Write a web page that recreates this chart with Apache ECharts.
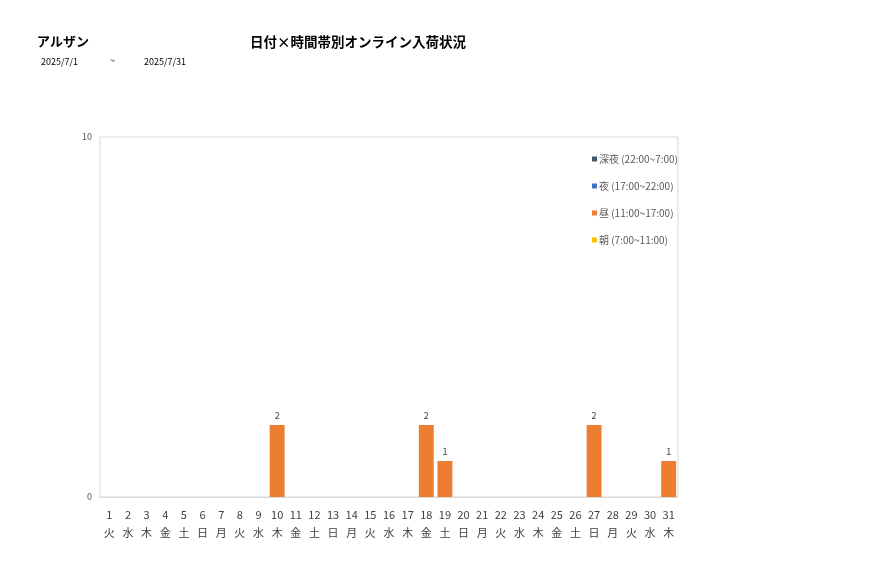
<!DOCTYPE html>
<html>
<head>
<meta charset="utf-8">
<script src="https://cdn.jsdelivr.net/npm/echarts@6/dist/echarts.min.js"></script>
<style>
	html, body { margin: 0; padding: 0; background: #fff; }
	#chart-container { width: 877px; height: 578px; }
</style>
</head>
<body>
<div id="chart-container"></div>
<script>
const days = ['1', '2', '3', '4', '5', '6', '7', '8', '9', '10', '11', '12', '13', '14', '15', '16',
	'17', '18', '19', '20', '21', '22', '23', '24', '25', '26', '27', '28', '29', '30', '31'];
const weekdays = ['火', '水', '木', '金', '土', '日', '月', '火', '水', '木', '金', '土', '日', '月', '火', '水',
	'木', '金', '土', '日', '月', '火', '水', '木', '金', '土', '日', '月', '火', '水', '木'];
const asa = [0, 0, 0, 0, 0, 0, 0, 0, 0, 0, 0, 0, 0, 0, 0, 0, 0, 0, 0, 0, 0, 0, 0, 0, 0, 0, 0, 0, 0, 0, 0];
const hiru = [0, 0, 0, 0, 0, 0, 0, 0, 0, 2, 0, 0, 0, 0, 0, 0, 0, 2, 1, 0, 0, 0, 0, 0, 0, 0, 2, 0, 0, 0, 1];
const yoru = [0, 0, 0, 0, 0, 0, 0, 0, 0, 0, 0, 0, 0, 0, 0, 0, 0, 0, 0, 0, 0, 0, 0, 0, 0, 0, 0, 0, 0, 0, 0];
const shinya = [0, 0, 0, 0, 0, 0, 0, 0, 0, 0, 0, 0, 0, 0, 0, 0, 0, 0, 0, 0, 0, 0, 0, 0, 0, 0, 0, 0, 0, 0, 0];
const yTicks = [0, 10];

const font = '"Noto Sans CJK JP", sans-serif';
const categories = days.map(function (d, i) {
	return d + '\n' + weekdays[i];
});

let myChart = echarts.init(document.getElementById('chart-container'), null, {
	renderer: 'canvas',
});

const labelOption = {
	show: true,
	position: 'top',
	distance: 5,
	fontSize: 9,
	color: '#404040',
	fontFamily: font,
	formatter: function (p) {
		return p.value ? String(p.value) : '';
	},
};

function makeSeries(name, data, color, withLabel) {
	return {
		name: name,
		type: 'bar',
		stack: 'total',
		barCategoryGap: '20%',
		itemStyle: { color: color },
		label: withLabel ? labelOption : { show: false },
		data: data,
	};
}

let option = {
	textStyle: { fontFamily: font },
	title: [
		{
			text: 'アルザン',
			left: 32,
			top: 30,
			textStyle: { fontSize: 13, fontWeight: 'bold', color: '#000', fontFamily: font },
		},
		{
			text: '日付×時間帯別オンライン入荷状況',
			left: 245,
			top: 30,
			textStyle: { fontSize: 13.5, fontWeight: 'bold', color: '#000', fontFamily: font },
		},
		{
			text: '2025/7/1',
			left: 36,
			top: 52,
			textStyle: { fontSize: 9, fontWeight: 'normal', color: '#000', fontFamily: font },
		},
		{
			text: '~',
			left: 105,
			top: 51,
			textStyle: { fontSize: 9, fontWeight: 'normal', color: '#000', fontFamily: font },
		},
		{
			text: '2025/7/31',
			left: 139,
			top: 52,
			textStyle: { fontSize: 9, fontWeight: 'normal', color: '#000', fontFamily: font },
		},
	],
	legend: {
		orient: 'vertical',
		left: 587,
		top: 149,
		itemGap: 17,
		itemWidth: 5,
		itemHeight: 5,
		icon: 'rect',
		textStyle: { fontSize: 10, color: '#595959', fontFamily: font, padding: [0, 0, 0, -3] },
		data: ['深夜 (22:00~7:00)', '夜 (17:00~22:00)', '昼 (11:00~17:00)', '朝 (7:00~11:00)'],
	},
	grid: {
		show: true,
		left: 100,
		right: 199,
		top: 137,
		bottom: 81,
		borderColor: '#d9d9d9',
		borderWidth: 1,
	},
	xAxis: {
		type: 'category',
		data: categories,
		axisTick: { show: false },
		axisLine: { lineStyle: { color: '#d9d9d9', width: 1 } },
		axisLabel: {
			interval: 0,
			fontSize: 11,
			lineHeight: 18,
			color: '#404040',
			margin: 9,
			fontFamily: font,
		},
	},
	yAxis: {
		type: 'value',
		min: yTicks[0],
		max: yTicks[yTicks.length - 1],
		interval: 10,
		splitLine: { show: false },
		axisLine: { show: false },
		axisTick: { show: false },
		axisLabel: { fontSize: 9, color: '#595959', margin: 8, fontFamily: font },
	},
	series: [
		makeSeries('朝 (7:00~11:00)', asa, '#ffc000', false),
		makeSeries('昼 (11:00~17:00)', hiru, '#ed7d31', true),
		makeSeries('夜 (17:00~22:00)', yoru, '#4472c4', false),
		makeSeries('深夜 (22:00~7:00)', shinya, '#44546a', false),
	],
};

myChart.setOption(option);
window.addEventListener('resize', myChart.resize);
</script>
</body>
</html>
